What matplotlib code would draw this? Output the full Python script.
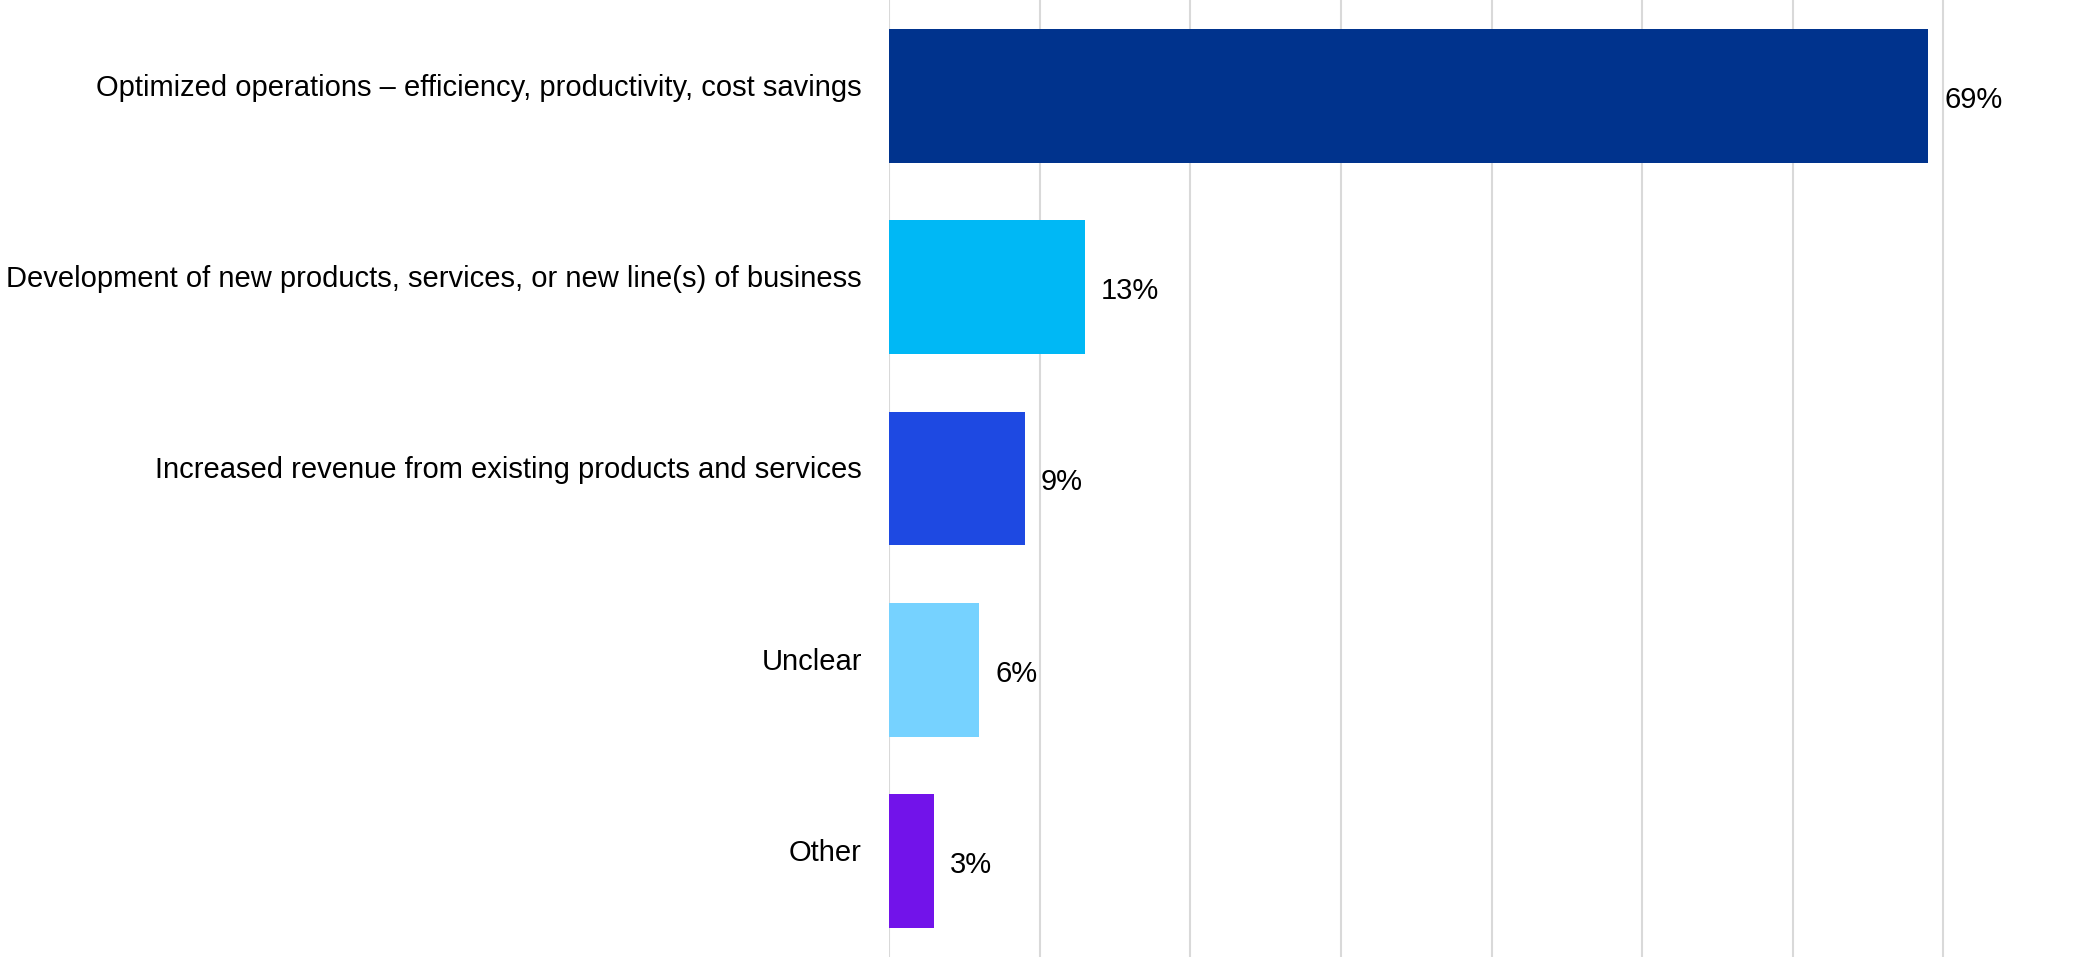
import matplotlib.pyplot as plt
from matplotlib.transforms import ScaledTranslation

# data
categories = [
    "Optimized operations \u2013 efficiency, productivity, cost savings",
    "Development of new products, services, or new line(s) of business",
    "Increased revenue from existing products and services",
    "Unclear",
    "Other",
]
values = [69, 13, 9, 6, 3]
colors = ["#00338D", "#00B8F5", "#1E49E2", "#76D2FF", "#7213EA"]
grid_ticks = [0, 10, 20, 30, 40, 50, 60, 70]

plt.rcParams['font.family'] = ['Liberation Sans', 'DejaVu Sans']

fig = plt.figure(figsize=(20.94, 9.57), dpi=100)
ax = fig.add_axes([889 / 2094, 0, 1 - 889 / 2094, 1])

y = list(range(len(categories)))
ax.barh(y, values, height=0.7, color=colors, zorder=3)

ax.set_xlim(0, 80)
ax.set_ylim(len(categories) - 0.5, -0.5)

ax.set_xticks(grid_ticks)
ax.xaxis.grid(True, color="#d9d9d9", linewidth=1.5, zorder=0)
ax.tick_params(axis="x", length=0, labelbottom=False)
ax.tick_params(axis="y", length=0, pad=19.5, labelsize=21)
ax.set_yticks(y)
ax.set_yticklabels(categories)
# category labels sit a bit above the bar centre
for lbl in ax.get_yticklabels():
    lbl.set_transform(lbl.get_transform() + ScaledTranslation(0, 0.11, fig.dpi_scale_trans))

for s in ax.spines.values():
    s.set_visible(False)

for yi, v in zip(y, values):
    ax.annotate(f"{v}%", (v, yi), xytext=(16, -4), textcoords="offset pixels",
                va="center", ha="left", fontsize=21)

fig.savefig("out.png", dpi=100)
